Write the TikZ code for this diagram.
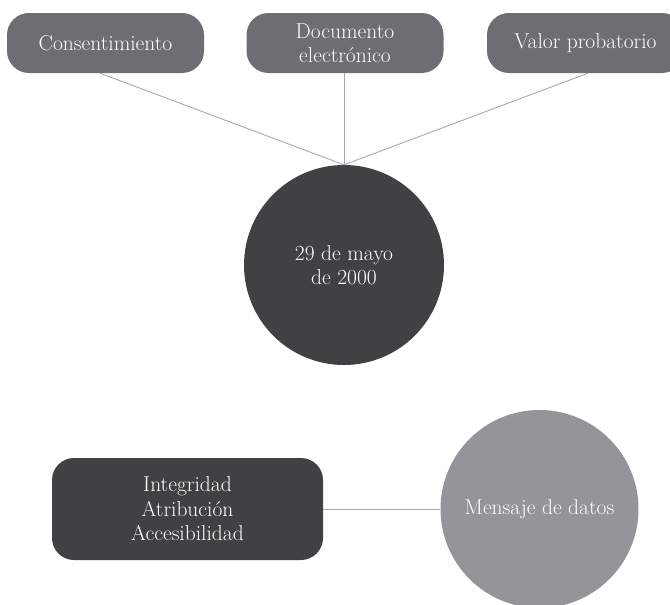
\documentclass[tikz,border=0pt]{standalone}
\definecolor{topgrey}{HTML}{6D6E71}
\definecolor{darkgrey}{HTML}{414042}
\definecolor{lightgrey}{HTML}{939598}
\definecolor{linegrey}{HTML}{A7A9AC}
\tikzset{
  txt/.style={text=white, font=\fontsize{21.5}{24.5}\selectfont, align=center, inner sep=0pt},
  topbox/.style={txt, fill=topgrey, rounded corners=22pt, minimum width=197pt, minimum height=60pt},
  conn/.style={draw=linegrey, line width=0.9pt}
}
\begin{document}
\begin{tikzpicture}[x=1pt,y=-1pt]
\useasboundingbox (0,0) rectangle (670,605);
\clip (0,0) rectangle (670,605);
\node[topbox] (b1) at (105.5,43) {Consentimiento};
\node[topbox] (b2) at (345,43) {Documento\\electrónico};
\node[topbox] (b3) at (585.5,43) {Valor probatorio};
\node[txt, circle, fill=darkgrey, minimum size=200pt] (c1) at (344,265) {29 de mayo\\de 2000};
\coordinate (ctop) at (c1.north);
\draw[conn] (b1.south) ++(-5.5,0) -- (ctop);
\draw[conn] (b2.south) ++(-1,0) -- (ctop);
\draw[conn] (b3.south) ++(2.5,0) -- (ctop);
\node[txt, fill=darkgrey, rounded corners=22pt, minimum width=271pt, minimum height=102pt] (b4) at (187.5,509) {Integridad\\Atribución\\Accesibilidad};
\node[txt, circle, fill=lightgrey, minimum size=198pt] (c2) at (539.5,509) {Mensaje de datos};
\draw[conn] (b4.east) -- (c2.west);
\end{tikzpicture}
\end{document}
